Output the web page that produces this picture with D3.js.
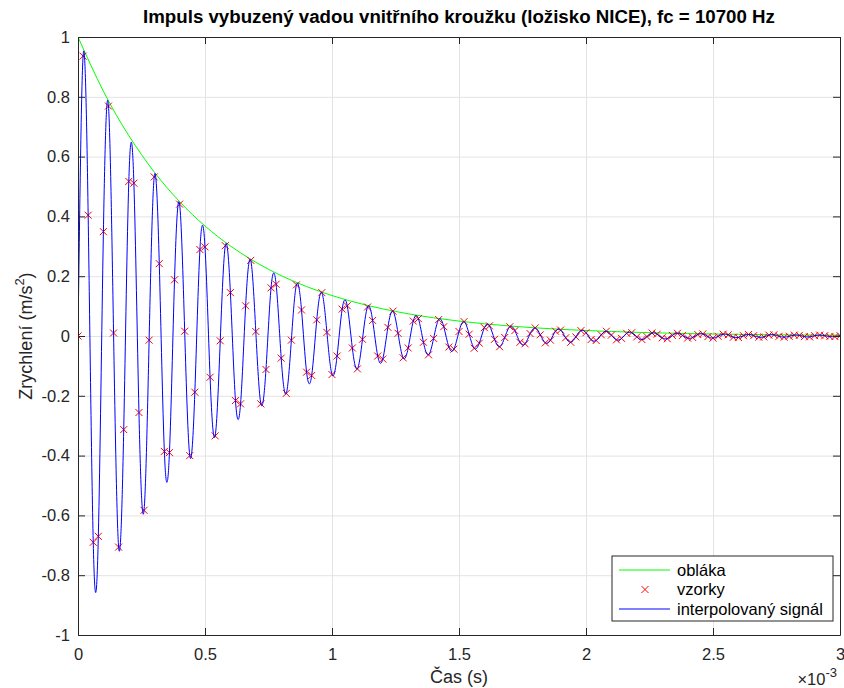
<!DOCTYPE html>
<html>
<head>
<meta charset="utf-8">
<script src="https://cdn.jsdelivr.net/npm/d3@7"></script>
<style>
  html, body { margin: 0; padding: 0; background: #fff; }
  svg { display: block; font-family: "Liberation Sans", Arial, Helvetica, sans-serif; }
</style>
</head>
<body>
<script>
// --- data ---
const SAMPLE_STEP = 0.02e-3;   // 50 kHz sampling
const ENV_STEP = 0.1e-3;

// vzorky (m/s^2), one per SAMPLE_STEP from t = 0
const sampleValues = [
  0, 0.936, 0.404, -0.690, -0.670, 0.349, 0.769, 0.010, -0.706, -0.313,
  0.517, 0.511, -0.256, -0.583, -0.014, 0.532, 0.242, -0.386, -0.390, 0.188,
  0.441, 0.016, -0.400, -0.188, 0.289, 0.298, -0.138, -0.334, -0.016, 0.302,
  0.145, -0.216, -0.227, 0.101, 0.253, 0.015, -0.227, -0.112, 0.161, 0.173,
  -0.074, -0.192, -0.014, 0.171, 0.087, -0.121, -0.132, 0.054, 0.145, 0.012,
  -0.129, -0.067, 0.090, 0.101, -0.040, -0.110, -0.011, 0.097, 0.052, -0.067,
  -0.077, 0.029, 0.083, 0.009, -0.073, -0.040, 0.050, 0.058, -0.021, -0.063,
  -0.008, 0.055, 0.031, -0.037, -0.044, 0.015, 0.048, 0.006, -0.041, -0.024,
  0.028, 0.034, -0.011, -0.036, -0.005, 0.031, 0.018, -0.021, -0.026, 0.008,
  0.027, 0.004, -0.023, -0.014, 0.016, 0.020, -0.006, -0.021, -0.003, 0.018,
  0.011, -0.012, -0.015, 0.004, 0.016, 0.003, -0.013, -0.008, 0.009, 0.011,
  -0.003, -0.012, -0.002, 0.010, 0.006, -0.006, -0.009, 0.002, 0.009, 0.002,
  -0.007, -0.005, 0.005, 0.007, -0.002, -0.007, -0.001, 0.006, 0.004, -0.004,
  -0.005, 0.001, 0.005, 0.001, -0.004, -0.003, 0.003, 0.004, -0.001, -0.004,
  -0.001, 0.003, 0.002, -0.002, -0.003, 0.001, 0.003, 0.001, -0.002, -0.002, 0.001
];

// obláka (envelope), one per ENV_STEP from t = 0
const envelopeValues = [
  1, 0.8187, 0.6703, 0.5488, 0.4493, 0.3679, 0.3012, 0.2466, 0.2019, 0.1653,
  0.1353, 0.1108, 0.0907, 0.0743, 0.0608, 0.0498, 0.0408, 0.0334, 0.0273, 0.0224,
  0.0183, 0.0150, 0.0123, 0.0101, 0.0082, 0.0067, 0.0055, 0.0045, 0.0037, 0.0030, 0.0025
];

const xTicks = [0, 0.5e-3, 1e-3, 1.5e-3, 2e-3, 2.5e-3, 3e-3];
const xTickLabels = ["0", "0.5", "1", "1.5", "2", "2.5", "3"];
const yTicks = [-1, -0.8, -0.6, -0.4, -0.2, 0, 0.2, 0.4, 0.6, 0.8, 1];
const yTickLabels = ["-1", "-0.8", "-0.6", "-0.4", "-0.2", "0", "0.2", "0.4", "0.6", "0.8", "1"];
const legendLabels = ["obláka", "vzorky", "interpolovaný signál"];

// --- layout ---
const width = 844, height = 688;
const margin = { top: 37, right: 4, bottom: 53, left: 78 };
const axisColor = "#262626";
const gridColor = "#e3e3e3";
const cGreen = "#00ff00", cRed = "#ff0000", cBlue = "#0000ff";

const x = d3.scaleLinear().domain([0, 3e-3]).range([margin.left, width - margin.right]);
const y = d3.scaleLinear().domain([-1, 1]).range([height - margin.bottom, margin.top]);
const plotW = width - margin.left - margin.right;
const plotH = height - margin.top - margin.bottom;

const samples = sampleValues.map((v, i) => ({ t: i * SAMPLE_STEP, v }));
const envelope = envelopeValues.map((v, i) => ({ t: i * ENV_STEP, v }));

const svg = d3.select("body").append("svg")
  .attr("width", width).attr("height", height)
  .attr("viewBox", `0 0 ${width} ${height}`);

svg.append("rect").attr("width", width).attr("height", height).attr("fill", "white");

svg.append("defs").append("clipPath").attr("id", "plotClip")
  .append("rect").attr("x", margin.left).attr("y", margin.top)
  .attr("width", plotW).attr("height", plotH);

// grid
svg.append("g")
  .attr("transform", `translate(0,${height - margin.bottom})`)
  .call(d3.axisBottom(x).tickValues(xTicks).tickSize(-plotH).tickFormat(""))
  .call(g => g.select(".domain").remove())
  .call(g => g.selectAll("line").attr("stroke", gridColor).attr("stroke-width", 1));
svg.append("g")
  .attr("transform", `translate(${margin.left},0)`)
  .call(d3.axisLeft(y).tickValues(yTicks).tickSize(-plotW).tickFormat(""))
  .call(g => g.select(".domain").remove())
  .call(g => g.selectAll("line").attr("stroke", gridColor).attr("stroke-width", 1));

// series
const plot = svg.append("g").attr("clip-path", "url(#plotClip)");

plot.append("path")
  .datum(envelope)
  .attr("fill", "none").attr("stroke", cGreen).attr("stroke-width", 1)
  .attr("d", d3.line().x(d => x(d.t)).y(d => y(d.v)).curve(d3.curveNatural));

const xMark = "M-3.5,-3.5L3.5,3.5M-3.5,3.5L3.5,-3.5";
plot.append("g")
  .selectAll("path")
  .data(samples)
  .join("path")
  .attr("transform", d => `translate(${x(d.t)},${y(d.v)})`)
  .attr("d", xMark)
  .attr("fill", "none").attr("stroke", cRed).attr("stroke-width", 1);

plot.append("path")
  .datum(samples)
  .attr("fill", "none").attr("stroke", cBlue).attr("stroke-width", 1)
  .attr("d", d3.line().x(d => x(d.t)).y(d => y(d.v)).curve(d3.curveNatural));

// axes, ticks inward on all four sides
const tickLen = 7;
const fontSize = 16.5;
function styleAxis(g) {
  g.select(".domain").attr("stroke", axisColor).attr("stroke-width", 1);
  g.selectAll(".tick line").attr("stroke", axisColor).attr("stroke-width", 1);
  g.selectAll(".tick text").attr("fill", axisColor).attr("font-size", fontSize)
    .attr("font-family", "Liberation Sans, Arial, sans-serif");
}

svg.append("g")
  .attr("transform", `translate(0,${height - margin.bottom})`)
  .call(d3.axisBottom(x).tickValues(xTicks).tickSizeInner(-tickLen).tickSizeOuter(0)
    .tickPadding(13).tickFormat((d, i) => xTickLabels[i]))
  .call(styleAxis);
svg.append("g")
  .attr("transform", `translate(0,${margin.top})`)
  .call(d3.axisTop(x).tickValues(xTicks).tickSizeInner(-tickLen).tickSizeOuter(0).tickFormat(""))
  .call(styleAxis);
svg.append("g")
  .attr("transform", `translate(${margin.left},0)`)
  .call(d3.axisLeft(y).tickValues(yTicks).tickSizeInner(-tickLen).tickSizeOuter(0)
    .tickPadding(8).tickFormat((d, i) => yTickLabels[i]))
  .call(styleAxis);
svg.append("g")
  .attr("transform", `translate(${width - margin.right},0)`)
  .call(d3.axisRight(y).tickValues(yTicks).tickSizeInner(-tickLen).tickSizeOuter(0).tickFormat(""))
  .call(styleAxis);

// exponent label
const expo = svg.append("text")
  .attr("x", width - margin.right - 3).attr("y", 685)
  .attr("text-anchor", "end").attr("fill", axisColor).attr("font-size", fontSize);
expo.append("tspan").text("×10");
expo.append("tspan").attr("dy", -8).attr("font-size", 13).text("-3");

// title
svg.append("text")
  .attr("x", margin.left + plotW / 2).attr("y", 23)
  .attr("text-anchor", "middle").attr("font-weight", "bold").attr("font-size", 18.7)
  .attr("fill", "#000")
  .text("Impuls vybuzený vadou vnitřního kroužku (ložisko NICE), fc = 10700 Hz");

// axis labels
svg.append("text")
  .attr("x", margin.left + plotW / 2).attr("y", 683)
  .attr("text-anchor", "middle").attr("font-size", 18).attr("fill", axisColor)
  .text("Čas (s)");

const yl = svg.append("text")
  .attr("transform", `translate(32,${margin.top + plotH / 2}) rotate(-90)`)
  .attr("text-anchor", "middle").attr("font-size", 18).attr("fill", axisColor);
yl.append("tspan").text("Zrychlení (m/s");
yl.append("tspan").attr("dy", -8).attr("font-size", 13).text("2");
yl.append("tspan").attr("dy", 8).text(")");

// legend
const lg = svg.append("g").attr("transform", "translate(612,556)");
lg.append("rect").attr("width", 221).attr("height", 65)
  .attr("fill", "white").attr("stroke", axisColor).attr("stroke-width", 1);
const rowY = [14, 33.5, 53];
const legendColors = [cGreen, cRed, cBlue];
legendLabels.forEach((label, i) => {
  if (i === 1) {
    lg.append("path").attr("transform", `translate(33,${rowY[i]})`)
      .attr("d", xMark).attr("fill", "none").attr("stroke", cRed).attr("stroke-width", 1);
  } else {
    lg.append("line").attr("x1", 7).attr("x2", 58).attr("y1", rowY[i]).attr("y2", rowY[i])
      .attr("stroke", legendColors[i]).attr("stroke-width", 1);
  }
  lg.append("text").attr("x", 65).attr("y", rowY[i]).attr("dy", "0.35em")
    .attr("font-size", fontSize).attr("fill", "#000").text(label);
});
</script>
</body>
</html>
